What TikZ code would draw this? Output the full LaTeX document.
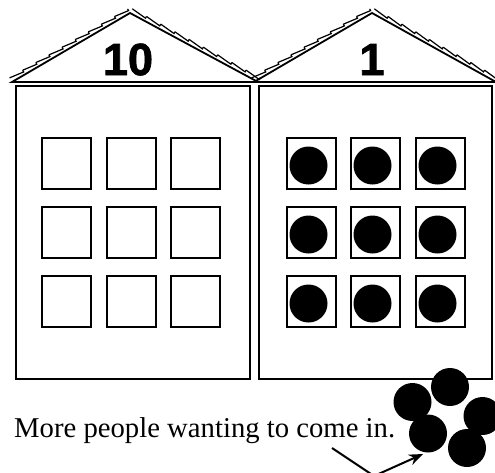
\documentclass[tikz,border=0pt]{standalone}
\usepackage{fontspec}
\setmainfont{Liberation Serif}
\newfontfamily\numfont[BoldFeatures={FakeBold=1.6}]{Liberation Sans}
\usetikzlibrary{arrows.meta, calc}
\tikzset{
  house/.style   = {rectangle, draw, line width=2pt, inner sep=0pt},
  winbox/.style  = {rectangle, draw, line width=1.3pt, minimum width=49pt,
                    minimum height=51pt, inner sep=0pt},
  person/.style  = {circle, fill=black, minimum size=38pt, inner sep=0pt},
  roofline/.style= {line width=1.8pt, line join=miter},
  shingle/.style = {line width=1.2pt, line join=miter},
  numlbl/.style  = {font=\numfont\bfseries\fontsize{45}{50}\selectfont, anchor=base, inner sep=0pt},
  caption/.style = {font=\fontsize{28.7}{32}\selectfont, anchor=base west, inner sep=0pt},
  flow/.style    = {-{Stealth[length=14pt, width=11pt]}, line width=2pt},
}

\begin{document}
\begin{tikzpicture}[x=1pt, y=-1pt]
	\useasboundingbox (0,0) rectangle (495,472);
	% the two buildings
	\node[house, minimum width=234pt, minimum height=293pt] (tens) at (133,232.5) {};
	\node[house, minimum width=233pt, minimum height=293pt] (ones) at (375.5,232.5) {};
	% roofs
	\coordinate (tl) at (12,82);  \coordinate (tt) at (130,13); \coordinate (tr) at (258,82);
	\coordinate (ol) at (254,82); \coordinate (ot) at (372,13); \coordinate (or) at (496,82);
	\draw[roofline] (tl) -- (tt) -- (tr) -- cycle;
	\draw[roofline] (ol) -- (ot) -- (or) -- cycle;
	\foreach \a/\b in {tl/tt, tt/tr, ol/ot, ot/or}{
		\foreach \k in {0,...,8}{
			\draw[shingle] ($(\a)!\k/9!(\b)!4.8pt!90:(\b)$) -- ($(\a)!\k/9+1/9!(\b)!2.8pt!90:(\b)$)
				-- ($(\a)!\k/9+1/9!(\b)!4.8pt!90:(\b)$);
		}
	}
	\node[numlbl] (tenslbl) at (128,75) {10};
	\node[numlbl] (oneslbl) at (372,75) {1};
	% windows
	\foreach \r/\y in {1/163.5, 2/232.5, 3/301.5}{
		\foreach \c/\x in {1/66.5, 2/131.5, 3/195.5}{
			\node[winbox] (t\r\c) at (\x,\y) {};
		}
		\foreach \c/\x in {1/311.5, 2/375.5, 3/440.5}{
			\node[winbox] (o\r\c) at (\x,\y) {};
			\node[person] (q\r\c) at ([xshift=-3pt, yshift=-2pt]o\r\c.center) {};
		}
	}
	% people outside
	\node[caption] (more) at (14,437) {More people wanting to come in.};
	\node[person] (p1) at (412.5,402) {};
	\node[person] (p2) at (450,387) {};
	\node[person] (p3) at (482.5,416) {};
	\node[person] (p4) at (428,433.5) {};
	\node[person] (p5) at (467,448) {};
	\coordinate (tail) at (332,448);
	\coordinate (bend) at (374,476);
	\coordinate (tip)  at (423,454);
	\draw[flow] (tail) -- (bend) -- (tip);
\end{tikzpicture}
\end{document}
